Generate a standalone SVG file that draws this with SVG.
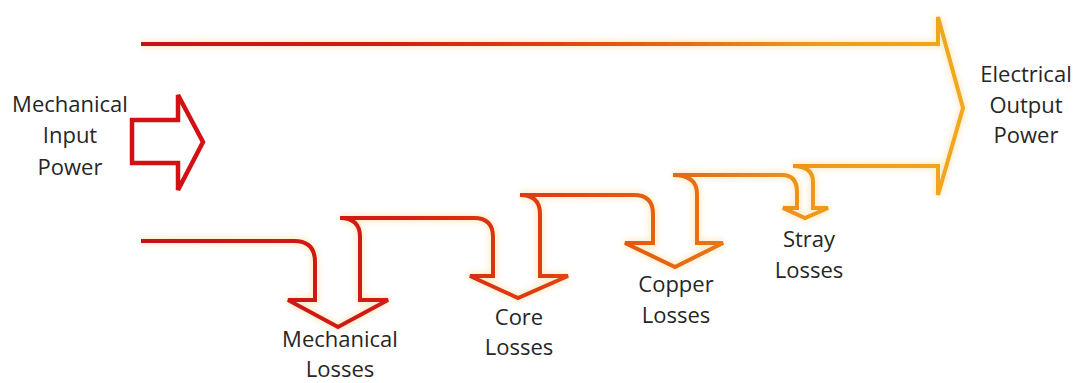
<svg xmlns="http://www.w3.org/2000/svg" width="1078" height="383" viewBox="0 0 1078 383">
  <defs>
    <linearGradient id="flowGrad" gradientUnits="userSpaceOnUse" x1="141" y1="0" x2="963" y2="0">
      <stop offset="0" stop-color="#c8101a"/>
      <stop offset="0.3" stop-color="#d21c14"/>
      <stop offset="0.5" stop-color="#df4012"/>
      <stop offset="0.66" stop-color="#e66a14"/>
      <stop offset="0.82" stop-color="#ec9a1c"/>
      <stop offset="1" stop-color="#f0a81e"/>
    </linearGradient>
    <filter id="glow" x="-5%" y="-10%" width="110%" height="120%">
      <feGaussianBlur stdDeviation="2.5"/>
    </filter>
  </defs>
  <style>
    .label { font-family: "Open Sans", "Liberation Sans", sans-serif; font-size: 22px; fill: #262626; text-anchor: middle; }
    .flow { fill: none; stroke: url(#flowGrad); stroke-width: 4; stroke-linejoin: miter; stroke-linecap: butt; }
    .halo { fill: none; stroke: #f6d27a; stroke-opacity: 0.35; stroke-width: 9; filter: url(#glow); }
    .input { fill: #ffffff; stroke: #d41014; stroke-width: 4.5; stroke-linejoin: miter; }
  </style>
  <rect width="1078" height="383" fill="#ffffff"/>

  <g id="connectors">
    <path id="flow-band-halo" class="halo" d="M141,44 L938,44 L938,17 L963,108 L938,195 L938,166 L793,166 Q813,166 813,182 L813,208 L828,208 L805,218 L783,208 L797,208 L797,192 Q797,175 782,175 L673,175 Q697,175 697,194 L697,243 L723,243 L675,267 L625,243 L653,243 L653,214 Q653,195 634,195 L520,195 Q540,195 540,214 L540,276 L568,276 L518,298 L470,276 L493,276 L493,237 Q493,218 474,218 L340,218 Q360,218 360,237 L360,300 L388,300 L338,327 L288,300 L315,300 L315,262 Q315,241 294,241 L141,241"/>
    <path id="flow-band" class="flow" d="M141,44 L938,44 L938,17 L963,108 L938,195 L938,166 L793,166 Q813,166 813,182 L813,208 L828,208 L805,218 L783,208 L797,208 L797,192 Q797,175 782,175 L673,175 Q697,175 697,194 L697,243 L723,243 L675,267 L625,243 L653,243 L653,214 Q653,195 634,195 L520,195 Q540,195 540,214 L540,276 L568,276 L518,298 L470,276 L493,276 L493,237 Q493,218 474,218 L340,218 Q360,218 360,237 L360,300 L388,300 L338,327 L288,300 L315,300 L315,262 Q315,241 294,241 L141,241"/>
  </g>

  <g id="input-arrow">
    <path class="input" d="M132,120 L178,120 L178,95 L203,142 L178,190 L178,163 L132,163 Z"/>
  </g>

  <g id="label-mechanical-input">
    <text class="label" x="70" y="112">Mechanical</text>
    <text class="label" x="70" y="143">Input</text>
    <text class="label" x="70" y="175">Power</text>
  </g>
  <g id="label-mechanical-losses">
    <text class="label" x="340" y="347">Mechanical</text>
    <text class="label" x="340" y="377">Losses</text>
  </g>
  <g id="label-core-losses">
    <text class="label" x="519" y="325">Core</text>
    <text class="label" x="519" y="355">Losses</text>
  </g>
  <g id="label-copper-losses">
    <text class="label" x="676" y="292">Copper</text>
    <text class="label" x="676" y="323">Losses</text>
  </g>
  <g id="label-stray-losses">
    <text class="label" x="809" y="247">Stray</text>
    <text class="label" x="809" y="278">Losses</text>
  </g>
  <g id="label-electrical-output">
    <text class="label" x="1026" y="82">Electrical</text>
    <text class="label" x="1026" y="113">Output</text>
    <text class="label" x="1026" y="143">Power</text>
  </g>
</svg>
